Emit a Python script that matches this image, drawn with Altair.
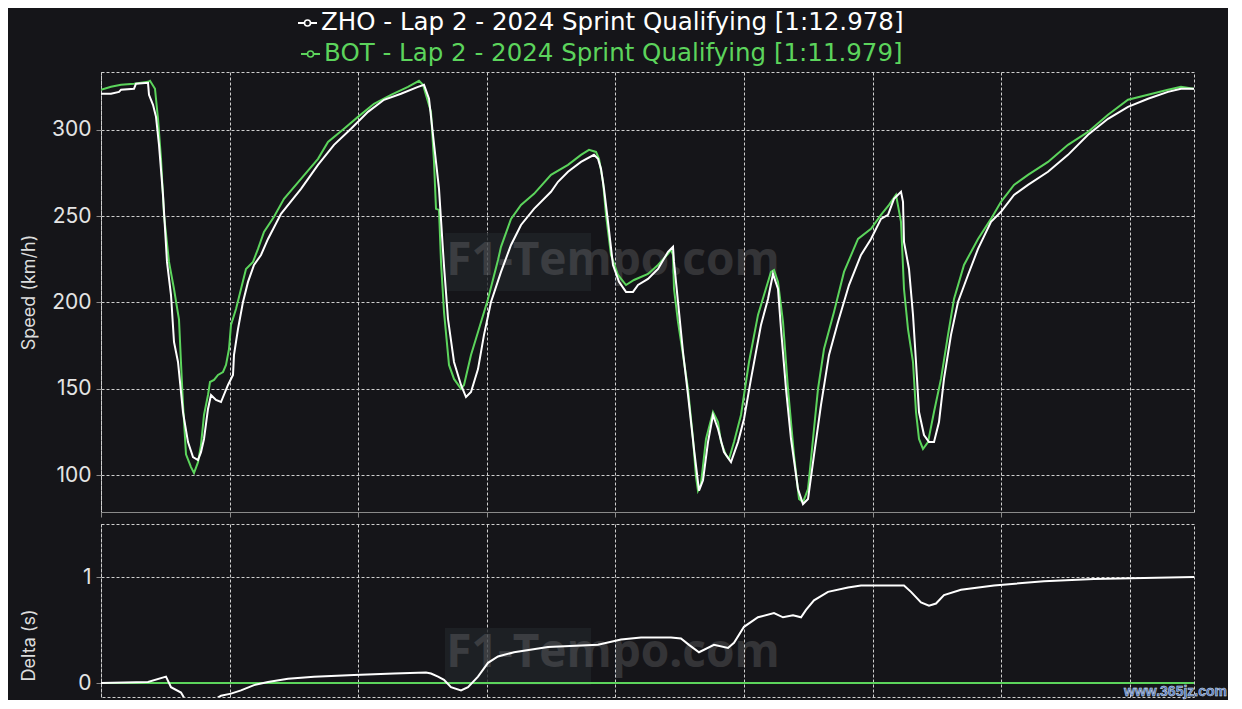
import altair as alt
import pandas as pd

# ---------------- data ----------------
BOT_DIST = [0, 50, 100, 165, 235, 245, 270, 285, 300, 315, 340, 365, 390, 400, 410, 425, 450, 465, 485, 500,
            515, 535, 545, 565, 585, 610, 625, 640, 650, 675, 700, 725, 760, 785, 815, 865, 915, 1000, 1085, 1135,
            1215, 1285, 1365, 1450, 1535, 1590, 1610, 1650, 1665, 1675, 1690, 1700, 1715, 1740, 1765, 1800, 1815,
            1850, 1885, 1935, 1985, 2000, 2050, 2100, 2165, 2250, 2335, 2400, 2440, 2475, 2490, 2510, 2525, 2550,
            2585, 2625, 2665, 2735, 2785, 2835, 2850, 2860, 2865, 2885, 2910, 2935, 2960, 2975, 2985, 3000, 3025,
            3060, 3085, 3100, 3125, 3140, 3165, 3200, 3240, 3285, 3315, 3350, 3365, 3385, 3410, 3435, 3465, 3490,
            3510, 3535, 3560, 3585, 3615, 3665, 3715, 3785, 3850, 3900, 3940, 3975, 4000, 4015, 4035, 4060, 4075,
            4090, 4110, 4135, 4165, 4200, 4235, 4265, 4315, 4385, 4450, 4500, 4565, 4635, 4735, 4835, 4935, 5035,
            5135, 5235, 5335, 5400, 5465]
BOT_SPEED = [323.2, 324.9, 326.1, 326.7, 327.8, 328.4, 323.8, 306.4, 283.2, 250.7, 223.5, 207.8, 190, 165, 141,
             112, 104.6, 101.2, 107.5, 117.4, 134.8, 146.4, 153.9, 155.1, 158, 159.7, 163.8, 173, 187, 196.2,
             207.8, 219.4, 223.5, 231, 240.9, 249.6, 260, 271.6, 283.2, 293, 300.6, 307.5, 315.1, 320.3, 324.9,
             328.4, 326.1, 310.4, 281.4, 254.2, 253.6, 223.5, 194.5, 163.8, 155.7, 149.9, 152.2, 169.6, 182.9, 202,
             224.6, 232.2, 248.4, 256.5, 262.9, 273.9, 279.7, 285.5, 288.4, 287.2, 283.2, 269.9, 250.7, 227.5,
             215.9, 210.1, 213, 216.5, 221.7, 228.1, 230.4, 227.5, 207.8, 188.7, 169.6, 149.9, 121.0, 99.0, 91.0,
             95.0, 120.9, 136.5, 130.7, 119.1, 111.6, 109.3, 119.1, 134.8, 165.5, 192.8, 204.3, 217.7, 218.8,
             211.9, 188.7, 149.9, 111.6, 86.1, 84.3, 91.9, 120.9, 149.9, 173, 194.5, 217.7, 236.8, 242.6, 250.7,
             256.5, 262.3, 246.7, 207.8, 184.6, 165.5, 136.5, 120.9, 115.1, 119.1, 136.5, 155.7, 181.2, 202, 221.7,
             236.8, 248.4, 258.3, 268.1, 273.9, 281.4, 291.3, 298.8, 308.7, 317.4, 320.3, 323.2, 324.9, 323.8]

ZHO_DIST = [0, 50, 90, 100, 165, 175, 235, 240, 260, 275, 290, 310, 330, 350, 365, 385, 410, 435, 460, 485, 500,
            515, 535, 550, 575, 600, 635, 660, 665, 685, 710, 735, 765, 800, 835, 900, 1000, 1085, 1165, 1250,
            1335, 1415, 1500, 1585, 1615, 1640, 1675, 1690, 1715, 1735, 1765, 1800, 1825, 1850, 1885, 1915, 1950,
            2000, 2050, 2100, 2165, 2250, 2285, 2335, 2400, 2465, 2485, 2500, 2515, 2535, 2560, 2590, 2625, 2660,
            2685, 2735, 2785, 2835, 2860, 2865, 2885, 2910, 2935, 2965, 2990, 3010, 3035, 3060, 3085, 3115, 3150,
            3185, 3215, 3250, 3300, 3335, 3360, 3385, 3400, 3425, 3450, 3485, 3510, 3535, 3565, 3600, 3640, 3685,
            3740, 3800, 3850, 3900, 3935, 3965, 4000, 4010, 4015, 4040, 4060, 4075, 4090, 4115, 4140, 4165, 4190,
            4215, 4250, 4285, 4335, 4385, 4450, 4500, 4565, 4635, 4735, 4835, 4935, 5035, 5135, 5235, 5335, 5400,
            5465]
ZHO_SPEED = [320.9, 320.9, 322.0, 323.2, 323.8, 326.7, 327.2, 320.3, 314.5, 307.5, 291.3, 262.3, 223.5, 204.3,
             177.1, 165.5, 136.5, 119.1, 110.4, 108.7, 113.3, 120.9, 138.3, 146.4, 143.5, 142.3, 152.2, 158.0,
             169.6, 184.6, 200.3, 211.9, 221.7, 227.5, 236.8, 251.3, 265.8, 279.7, 291.3, 300.6, 310.4, 317.4,
             320.9, 324.9, 326.1, 318.0, 281.4, 265.8, 221.2, 190.4, 165.5, 152.2, 145.2, 148.1, 161.4, 181.2,
             200.3, 217.7, 233.3, 244.9, 254.2, 264.1, 269.9, 275.7, 281.4, 285.5, 283.2, 277.4, 265.8, 246.7,
             221.7, 211.9, 206.1, 206.1, 210.1, 213.6, 219.4, 229.3, 232.2, 223.5, 200.3, 171.3, 146.4, 115.0,
             91.0, 97.0, 119.1, 134.8, 126.7, 113.3, 107.5, 119.1, 132.5, 155.7, 187.0, 202.0, 216.5, 207.8,
             184.6, 149.9, 120.9, 91.9, 83.2, 86.1, 111.6, 140.6, 169.6, 188.7, 210.1, 227.5, 236.8, 248.4, 250.7,
             260.0, 264.1, 258.3, 235.1, 219.4, 192.8, 165.5, 136.5, 123.2, 119.1, 119.1, 130.7, 155.7, 181.2,
             200.3, 215.9, 231.0, 246.7, 252.5, 262.3, 268.1, 275.7, 285.5, 297.1, 306.4, 313.3, 318.0, 322.0,
             323.8, 323.8]

DELTA_DIST = [0, 235, 325, 350, 400, 450, 485, 515, 565, 600, 650, 700, 765, 835, 935, 1065, 1265, 1465, 1625,
              1650, 1685, 1715, 1750, 1800, 1835, 1885, 1935, 1985, 2065, 2235, 2485, 2600, 2700, 2850, 2900,
              2940, 2990, 3065, 3135, 3165, 3215, 3285, 3365, 3410, 3460, 3500, 3525, 3565, 3635, 3735, 3800,
              3900, 4015, 4050, 4100, 4140, 4175, 4215, 4300, 4465, 4715, 4965, 5215, 5465]
ZHO_DELTA = [0, 0.01, 0.06, -0.04, -0.09, -0.25, -0.28, -0.23, -0.16, -0.12, -0.10, -0.07, -0.02, 0.01, 0.04,
             0.06, 0.075, 0.09, 0.10, 0.09, 0.06, 0.03, -0.04, -0.07, -0.04, 0.06, 0.19, 0.25, 0.29, 0.34, 0.36,
             0.41, 0.43, 0.43, 0.42, 0.36, 0.29, 0.36, 0.33, 0.38, 0.53, 0.62, 0.66, 0.62, 0.64, 0.62, 0.69, 0.78,
             0.86, 0.90, 0.92, 0.92, 0.92, 0.86, 0.76, 0.73, 0.75, 0.83, 0.88, 0.92, 0.96, 0.98, 0.99, 0.999]
BOT_DELTA_DIST = [0, 5465]
BOT_DELTA = [0.0, 0.0]

X_TICKS = [0, 643, 1286, 1929, 2572, 3215, 3858, 4501, 5144]
SPEED_TICKS = [100, 150, 200, 250, 300]
DELTA_TICKS = [0, 1]
LEGEND_LABELS = ["ZHO - Lap 2 - 2024 Sprint Qualifying [1:12.978]",
                 "BOT - Lap 2 - 2024 Sprint Qualifying [1:11.979]"]
WATERMARK = "F1-Tempo.com"
SITE_MARK = "www.365jz.com"

# ---------------- style ----------------
BG = "#151519"
WHITE = "#ffffff"
GREEN = "#5cd45c"
GRID = "#cfcfcf"
AXIS_GRAY = "#8a8a8a"
FONT = "Inter"
LEG_FONT = "DejaVu Sans"
W = 1093
H_SPEED = 440
H_DELTA = 173

x_scale = alt.Scale(domain=[0, 5465], nice=False, zero=False)
speed_scale = alt.Scale(domain=[78.6, 333.5], nice=False, zero=False)
delta_scale = alt.Scale(domain=[-0.132, 1.5], nice=False, zero=False)

x_axis_speed = alt.Axis(values=X_TICKS, labels=False, title=None, grid=True, gridColor=GRID,
                        gridDash=[3, 2], gridWidth=1, domain=True, domainColor=AXIS_GRAY,
                        ticks=True, tickColor=AXIS_GRAY, tickSize=5)
x_axis_delta = alt.Axis(values=X_TICKS, labels=False, title=None, grid=True, gridColor=GRID,
                        gridDash=[3, 2], gridWidth=1, domain=False, ticks=False)


def y_axis(values, title, title_y):
    return alt.Axis(values=values, format="d", title=title, titleFont=FONT, titleFontSize=18,
                    titleFontWeight="normal", titleColor="#dcdcdc", titleAngle=270,
                    titleX=-72, titleY=title_y, titleAlign="center", titleBaseline="middle",
                    labelFont=FONT, labelFontSize=21, labelColor="#e4e4e4", labelPadding=5,
                    ticks=True, tickColor=AXIS_GRAY, tickSize=5, domain=False,
                    grid=True, gridColor=GRID, gridDash=[3, 2], gridWidth=1)


bot_df = pd.DataFrame({"dist": BOT_DIST, "speed": BOT_SPEED})
zho_df = pd.DataFrame({"dist": ZHO_DIST, "speed": ZHO_SPEED})
zho_delta_df = pd.DataFrame({"dist": DELTA_DIST, "delta": ZHO_DELTA})
bot_delta_df = pd.DataFrame({"dist": BOT_DELTA_DIST, "delta": BOT_DELTA})

wm_df = pd.DataFrame({"t": [WATERMARK]})


def wm_layers(box_y, box_y2, text_y):
    box = alt.Chart(wm_df).mark_rect(color="#1f2327", opacity=0.8).encode(
        x=alt.value(344), x2=alt.value(490), y=alt.value(box_y), y2=alt.value(box_y2))
    txt = alt.Chart(wm_df).mark_text(font="Open Sans", fontSize=46, fontWeight="bold", color=WHITE,
                                     opacity=0.13, align="center", baseline="alphabetic").encode(
        x=alt.value(512), y=alt.value(text_y), text="t:N")
    return box, txt


sp_box, sp_txt = wm_layers(161, 219, 203)

bot_line = alt.Chart(bot_df).mark_line(color=GREEN, strokeWidth=2, clip=True).encode(
    x=alt.X("dist:Q", scale=x_scale, axis=x_axis_speed),
    y=alt.Y("speed:Q", scale=speed_scale, axis=y_axis(SPEED_TICKS, "Speed (km/h)", 220)))
zho_line = alt.Chart(zho_df).mark_line(color=WHITE, strokeWidth=2, clip=True).encode(
    x=alt.X("dist:Q", scale=x_scale, axis=x_axis_speed),
    y=alt.Y("speed:Q", scale=speed_scale))

# legend (custom, above the plot)
leg_layers = []
for lab, col, sx, ty in [(LEGEND_LABELS[0], WHITE, 197, -49), (LEGEND_LABELS[1], GREEN, 200, -18)]:
    ldf = pd.DataFrame({"label": [lab]})
    leg_layers.append(alt.Chart(ldf).mark_rule(color=col, strokeWidth=2).encode(
        x=alt.value(sx), x2=alt.value(sx + 19), y=alt.value(ty)))
    leg_layers.append(alt.Chart(ldf).mark_point(shape="circle", filled=True, fill=BG, stroke=col,
                                                strokeWidth=1.6, size=36, opacity=1).encode(
        x=alt.value(sx + 9.5), y=alt.value(ty)))
    leg_layers.append(alt.Chart(ldf).mark_text(font=LEG_FONT, fontSize=24.5, color=col, align="left",
                                               baseline="middle").encode(
        x=alt.value(sx + 23), y=alt.value(ty), text="label:N"))

speed = alt.layer(sp_box, sp_txt, bot_line, zho_line, *leg_layers).properties(width=W, height=H_SPEED)

dl_box, dl_txt = wm_layers(104, 161, 143)
bot_d = alt.Chart(bot_delta_df).mark_line(color=GREEN, strokeWidth=2, clip=True).encode(
    x=alt.X("dist:Q", scale=x_scale, axis=x_axis_delta),
    y=alt.Y("delta:Q", scale=delta_scale, axis=y_axis(DELTA_TICKS, "Delta (s)", 121)))
zho_d = alt.Chart(zho_delta_df).mark_line(color=WHITE, strokeWidth=2, clip=True).encode(
    x=alt.X("dist:Q", scale=x_scale, axis=x_axis_delta),
    y=alt.Y("delta:Q", scale=delta_scale))
site = alt.Chart(pd.DataFrame({"s": [SITE_MARK]})).mark_text(
    font="Liberation Sans", fontSize=14, fontWeight="bold", color="#4a6db8", stroke="#dfe6f2",
    strokeWidth=0.5, align="right", baseline="middle").encode(
    x=alt.value(1126), y=alt.value(168), text="s:N")

delta = alt.layer(dl_box, dl_txt, bot_d, zho_d, site).properties(width=W, height=H_DELTA)

chart = alt.vconcat(speed, delta, spacing=5).properties(
    background=BG, padding={"left": 11, "top": 1, "right": 0, "bottom": 0}
).configure_view(stroke=GRID, strokeDash=[3, 2], strokeWidth=1)

chart.save("out.html", embed_options={"renderer": "svg", "actions": False})
